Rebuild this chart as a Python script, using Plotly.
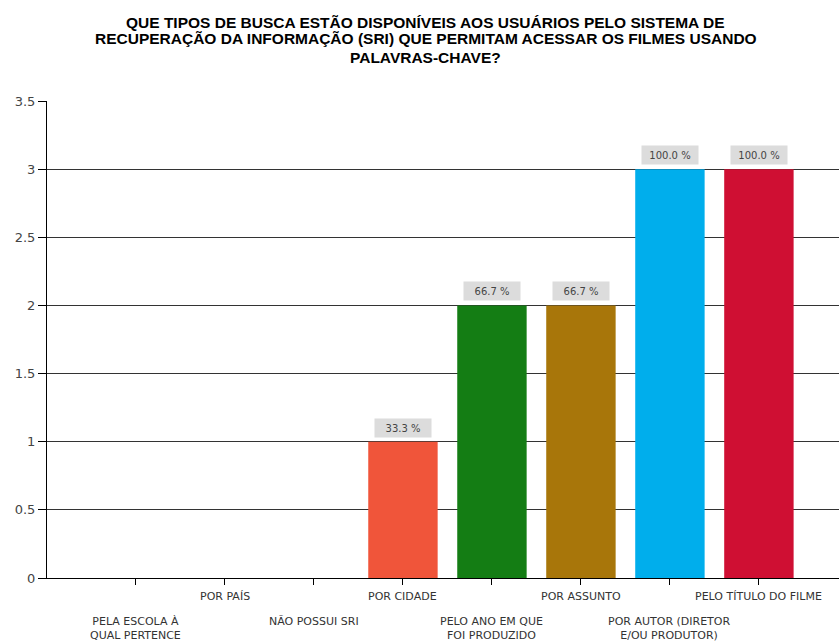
import plotly.graph_objects as go

categories = [
    "PELA ESCOLA À<br>QUAL PERTENCE",
    "POR PAÍS",
    "NÃO POSSUI SRI",
    "POR CIDADE",
    "PELO ANO EM QUE<br>FOI PRODUZIDO",
    "POR ASSUNTO",
    "POR AUTOR (DIRETOR<br>E/OU PRODUTOR)",
    "PELO TÍTULO DO FILME",
]
values = [0, 0, 0, 1, 2, 2, 3, 3]
percent_labels = ["", "", "", "33.3 %", "66.7 %", "66.7 %", "100.0 %", "100.0 %"]
bar_colors = ["#888888", "#888888", "#888888", "#F0553A", "#147D14", "#A8760A", "#00AEEC", "#CF0F33"]
y_ticks = [0, 0.5, 1, 1.5, 2, 2.5, 3, 3.5]
y_tick_text = ["0", "0.5", "1", "1.5", "2", "2.5", "3", "3.5"]

title_lines = [
    "QUE TIPOS DE BUSCA ESTÃO DISPONÍVEIS AOS USUÁRIOS PELO SISTEMA DE",
    "RECUPERAÇÃO DA INFORMAÇÃO (SRI) QUE PERMITAM ACESSAR OS FILMES USANDO",
    "PALAVRAS-CHAVE?",
]
title_line_y = [1.1656, 1.1300, 1.0922]

xs = list(range(len(categories)))

fig = go.Figure()
fig.add_trace(go.Bar(
    x=xs, y=values, width=0.78,
    marker=dict(color=bar_colors, line=dict(width=0)),
    hoverinfo="skip",
))

annotations = []
for line, ly in zip(title_lines, title_line_y):
    annotations.append(dict(
        x=0.478, xref="paper", y=ly, yref="paper", text="<b>" + line + "</b>",
        showarrow=False, xanchor="center", yanchor="middle",
        font=dict(family="Liberation Sans, Arial", size=15.5, color="black"),
    ))

for i, (cat, v, lab) in enumerate(zip(categories, values, percent_labels)):
    lower = (i % 2 == 0)
    annotations.append(dict(
        x=i, xref="x", y=-0.022 if not lower else -0.073, yref="paper",
        text=cat, showarrow=False, yanchor="top", xanchor="center",
        font=dict(family="DejaVu Sans", size=11, color="#333333"),
        align="center",
    ))
    if lab:
        annotations.append(dict(
            x=i, xref="x", y=v, yref="y", text=lab, showarrow=False,
            yanchor="bottom", xanchor="center", yshift=4,
            width=54, height=16,
            bgcolor="#DCDCDC", borderpad=1,
            font=dict(family="DejaVu Sans", size=10, color="#444444"),
        ))

fig.update_layout(
    width=839, height=643,
    margin=dict(l=47, r=0, t=101, b=65),
    paper_bgcolor="white", plot_bgcolor="white",
    showlegend=False,
    annotations=annotations,
    xaxis=dict(
        range=[-1, 7.9], tickmode="array", tickvals=xs, ticktext=[""] * len(xs),
        ticks="outside", ticklen=6, tickcolor="black",
        showgrid=False, showline=True, linecolor="black", linewidth=1,
        zeroline=False, fixedrange=True,
    ),
    yaxis=dict(
        range=[0, 3.5], tickmode="array", tickvals=y_ticks, ticktext=y_tick_text,
        ticks="outside", ticklen=8, tickcolor="black",
        showgrid=True, gridcolor="#333333", gridwidth=1,
        showline=True, linecolor="black", linewidth=1,
        zeroline=False,
        tickfont=dict(family="DejaVu Sans", size=13, color="#444444"),
    ),
    bargap=0.22,
)

fig.write_html(
    "out.html",
    config={"displayModeBar": False},
    post_script="document.body.style.margin='0';document.body.style.overflow='hidden';",
)
